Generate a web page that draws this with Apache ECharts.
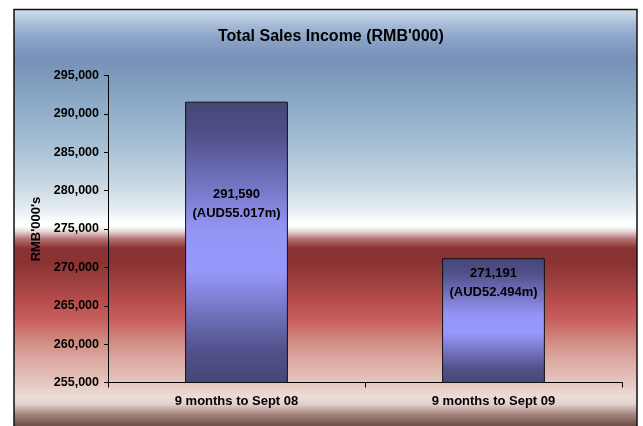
<!DOCTYPE html>
<html lang="en">
<head>
<meta charset="UTF-8">
<title>Total Sales Income</title>
<style>
  html, body { margin: 0; padding: 0; background: #fff; }
  #chart { width: 643px; height: 426px; }
</style>
</head>
<body>
<div id="chart"></div>
<script src="https://cdn.jsdelivr.net/npm/echarts@6/dist/echarts.min.js"></script>
<script>
// data
var categories = ['9 months to Sept 08', '9 months to Sept 09'];
var salesRmb = [291590, 271191];
var salesAud = ['55.017', '52.494'];
var yTicks = [255000, 295000, 5000]; // min, max, step

function fmt(n) {
  return n.toString().replace(/\B(?=(\d{3})+(?!\d))/g, ',');
}

var chart = echarts.init(document.getElementById('chart'));

// panel background (blue sky -> white -> red band), panel runs y 9.5 .. 428
var panelFill = new echarts.graphic.LinearGradient(0, 0, 0, 1, [
  { offset: 0.000, color: '#d4e2ee' },
  { offset: 0.037, color: '#a6bcd8' },
  { offset: 0.073, color: '#8aa2c6' },
  { offset: 0.121, color: '#7890b8' },
  { offset: 0.216, color: '#8aa8c6' },
  { offset: 0.312, color: '#a2bcd2' },
  { offset: 0.407, color: '#c4d4e0' },
  { offset: 0.479, color: '#e6eef2' },
  { offset: 0.503, color: '#fafcfd' },
  { offset: 0.518, color: '#ffffff' },
  { offset: 0.530, color: '#ead8d8' },
  { offset: 0.548, color: '#b47474' },
  { offset: 0.570, color: '#8c3232' },
  { offset: 0.604, color: '#8a3232' },
  { offset: 0.647, color: '#9c4040' },
  { offset: 0.695, color: '#b84c4c' },
  { offset: 0.742, color: '#c86060' },
  { offset: 0.790, color: '#d08a80' },
  { offset: 0.838, color: '#dcaaa4' },
  { offset: 0.885, color: '#e4c4bc' },
  { offset: 0.925, color: '#ecdcd8' },
  { offset: 0.942, color: '#e2d0cc' },
  { offset: 0.965, color: '#a88680' },
  { offset: 1.000, color: '#5e403a' }
]);

var barFill = new echarts.graphic.LinearGradient(0, 0, 0, 1, [
  { offset: 0.00, color: '#464676' },
  { offset: 0.12, color: '#50508a' },
  { offset: 0.45, color: '#9494f4' },
  { offset: 0.60, color: '#9898fc' },
  { offset: 0.88, color: '#52528c' },
  { offset: 1.00, color: '#464676' }
]);

var barData = salesRmb.map(function (v, i) {
  return { value: v, aud: salesAud[i] };
});

var option = {
  animation: false,
  textStyle: { fontFamily: 'Liberation Sans, Arial, sans-serif' },
  graphic: [{
    type: 'rect',
    z: -100,
    silent: true,
    shape: { x: 14, y: 9.5, width: 623, height: 418.5 },
    style: { fill: panelFill, stroke: '#111', lineWidth: 1.5 }
  }],
  title: {
    text: "Total Sales Income (RMB'000)",
    left: 213,
    top: 24,
    textStyle: { fontSize: 16, fontWeight: 'bold', color: '#000', fontFamily: 'Liberation Sans, Arial, sans-serif' }
  },
  grid: { left: 108, right: 21, top: 75.5, bottom: 43.5, containLabel: false },
  xAxis: {
    type: 'category',
    data: categories,
    axisLine: { lineStyle: { color: '#000', width: 1 } },
    axisTick: { show: true, length: 5, lineStyle: { color: '#000' } },
    axisLabel: { fontSize: 13, fontWeight: 'bold', color: '#000', margin: 12 },
    splitLine: { show: false }
  },
  yAxis: {
    type: 'value',
    min: yTicks[0],
    max: yTicks[1],
    interval: yTicks[2],
    name: "RMB'000's",
    nameLocation: 'middle',
    nameGap: 60,
    nameTextStyle: { fontSize: 13, fontWeight: 'bold', color: '#000' },
    axisLine: { show: true, lineStyle: { color: '#000', width: 1 } },
    axisTick: { show: true, length: 4, lineStyle: { color: '#000' } },
    axisLabel: { fontSize: 12.5, fontWeight: 'bold', color: '#000', margin: 9, formatter: fmt },
    splitLine: { show: false }
  },
  series: [{
    type: 'bar',
    data: barData,
    barWidth: '40%',
    itemStyle: { color: barFill, borderColor: '#111', borderWidth: 1 },
    label: {
      show: true,
      position: 'inside',
      offset: [0, -38],
      fontSize: 13,
      fontWeight: 'bold',
      color: '#000',
      lineHeight: 19,
      formatter: function (p) {
        return fmt(p.value) + '\n(AUD' + p.data.aud + 'm)';
      }
    }
  }]
};

chart.setOption(option);
</script>
</body>
</html>
